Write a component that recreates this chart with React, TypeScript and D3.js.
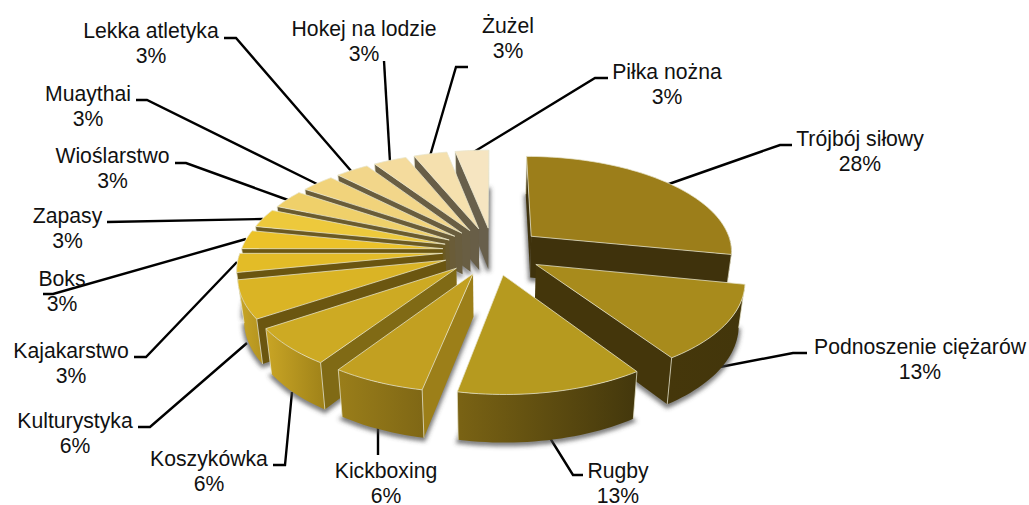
import React from "react";
import * as d3 from "d3";

const categories = ["Trójbój siłowy","Podnoszenie ciężarów","Rugby","Kickboxing","Koszykówka","Kulturystyka","Kajakarstwo","Boks","Zapasy","Wioślarstwo","Muaythai","Lekka atletyka","Hokej na lodzie","Żużel","Piłka nożna"];
const counts = [9,4,4,2,2,2,1,1,1,1,1,1,1,1,1];
const percentLabels = ["28%","13%","13%","6%","6%","6%","3%","3%","3%","3%","3%","3%","3%","3%","3%"];

const topColors = ["#9C7E1A","#A88B1C","#B69A1F","#C2A021","#CDAA23","#DAB425","#E3BC27","#EBC229","#EDC93C","#EFD06A","#F1D37B","#F2D68A","#F4DB9D","#F5E0AE","#F6E5C1"];
const wallColors = ["#3F320C","#44360B","#5A4810","#9C7F19","#806A15","#6B5610","#6A5510","#6C5812","#6B5A22","#6A5B2E","#6A5C38","#695D3E","#695E43","#685E47","#685F4B"];
const rimLeft = ["#45370B","#45370B","#7A6314","#9A7E1A","#C9A525","#C9A627","#C4A326","#C4A326","#C4A326","#C4A326","#C4A326","#C4A326","#C4A326","#C4A326","#C4A326"];
const rimRight = ["#3F320C","#43360B","#43370C","#7F6715","#9F8219","#B3931F","#B3931F","#B3931F","#B3931F","#B3931F","#B3931F","#B3931F","#B3931F","#B3931F","#B3931F"];

const labelCenterX = [860,920,618,386,209,75,71,62,67.5,112.5,88,151,364,508,667];
const labelBaseline = [146,354,478,478,466,428,358,286,223,163,101,38,36,33,79];
const leaderPaths: [number,number][][] = [
  [[666,185],[780,145],[792,145]],
  [[720,367],[793,353],[807,353]],
  [[550,438],[573,475],[583,475]],
  [[378,428],[378,455]],
  [[292,392],[285,465],[273,465]],
  [[247,343],[150,427],[138,427]],
  [[237,262],[146,357],[134,357]],
  [[246,239],[53,294],[43,294]],
  [[263,219],[107,222]],
  [[288,200],[186,163],[175,163]],
  [[317,184],[147,100],[136,100]],
  [[352,172],[236,38],[224,38]],
  [[390,162],[384,61]],
  [[430,156],[456,67],[468,67]],
  [[472,153],[595,78],[608,78]],
];

const CX = 493, CY = 251, RX = 202, TILT = 95, PERSP = 0.141, EXPLODE = 0.25, DEPTH = 42, TAPER = 0.975;

type P = [number, number];
const persp = (z: number) => 1 / (1 - PERSP * z);
const top = (wx: number, wz: number): P => {
  const s = persp(wz);
  return [CX + wx * RX * s, CY + wz * TILT * s];
};
const bottom = (wx: number, wz: number): P => {
  const s = persp(wz);
  const [x, y] = top(wx, wz);
  return [CX + (x - CX) * TAPER, y + DEPTH * Math.pow(s, 0.7)];
};
const line = d3.line<P>().x(d => d[0]).y(d => d[1]);
const poly = (pts: P[]) => line(pts) + "Z";

const pieArcs = d3.pie<number>().sort(null).value(d => d)(counts);

const slices = pieArcs.map((a, i) => {
  const mid = (a.startAngle + a.endAngle) / 2;
  const ox = EXPLODE * Math.sin(mid), oz = -EXPLODE * Math.cos(mid);
  const world = (t: number, r = 1): P => [ox + r * Math.sin(t), oz - r * Math.cos(t)];
  const n = Math.max(4, Math.ceil((a.endAngle - a.startAngle) / 0.03));
  const angles = d3.range(n + 1).map(k => a.startAngle + (a.endAngle - a.startAngle) * k / n);
  const apexW: P = [ox, oz];
  const arcW = angles.map(t => world(t));
  const topArc = arcW.map(w => top(w[0], w[1]));
  const botArc = arcW.map(w => bottom(w[0], w[1]));
  const apexT = top(apexW[0], apexW[1]);
  const apexB = bottom(apexW[0], apexW[1]);
  const topFace = poly([apexT, ...topArc]);
  const botFace = poly([apexB, ...botArc]);
  const s0 = topArc[0], s1 = topArc[n];
  const startWall = s0[0] < apexT[0];
  const endWall = apexT[0] < s1[0];
  const front = angles.filter(t => Math.cos(t) < 0.02);
  const frontW = front.map(t => world(t));
  const rimT = frontW.map(w => top(w[0], w[1]));
  const rimB = frontW.map(w => bottom(w[0], w[1]));
  return { i, apexT, apexB, topArc, botArc, topFace, botFace, startWall, endWall, rimT, rimB, n, angles };
});

const drawOrder = [14,13,12,11,10,9,8,7,6,5,4,3,0,1,2];
const EDGE = "rgba(232,230,205,0.75)";
const FONT = "'Liberation Sans', Arial, sans-serif";

export default function App() {
  return (
    <svg width={1029} height={505} style={{ position: "absolute", left: 0, top: 0, background: "#fff" }}>
      <defs>
        <filter id="soft" x="-20%" y="-20%" width="140%" height="140%">
          <feGaussianBlur stdDeviation="2.2" />
        </filter>
        {slices.map(s => (
          <linearGradient key={s.i} id={`rim${s.i}`} x1="0" x2="1" y1="0" y2="0">
            <stop offset="0" stopColor={rimLeft[s.i]} />
            <stop offset="1" stopColor={rimRight[s.i]} />
          </linearGradient>
        ))}
      </defs>
      <g stroke="#000" strokeWidth={2.4} fill="none">
        {leaderPaths.map((p, i) => <path key={i} d={line(p as P[]) as string} />)}
      </g>
      {drawOrder.map(idx => {
        const s = slices[idx];
        const last = s.n;
        return (
          <g key={idx}>
            <path d={s.botFace} fill="#4a4a4a" fillOpacity={0.6} stroke="#4a4a4a" strokeOpacity={0.6} strokeWidth={4} transform="translate(0,2)" filter="url(#soft)" />
            {s.rimT.length > 1 && (
              <path d={poly([...s.rimT, ...[...s.rimB].reverse()])} fill={`url(#rim${idx})`} />
            )}
            {s.startWall && <path d={poly([s.apexT, s.topArc[0], s.botArc[0], s.apexB])} fill={wallColors[idx]} />}
            {s.endWall && <path d={poly([s.topArc[last], s.apexT, s.apexB, s.botArc[last]])} fill={wallColors[idx]} />}
            {(s.startWall || Math.cos(s.angles[0]) < 0) && (
              <path d={line([s.topArc[0], s.botArc[0]]) as string} stroke={EDGE} strokeWidth={1} />
            )}
            {(s.endWall || Math.cos(s.angles[last]) < 0) && (
              <path d={line([s.topArc[last], s.botArc[last]]) as string} stroke={EDGE} strokeWidth={1} />
            )}
            <path d={s.topFace} fill={topColors[idx]} stroke={EDGE} strokeWidth={1} strokeLinejoin="round" />
          </g>
        );
      })}
      <g fontFamily={FONT} fontSize={21.2} fill="#111" textAnchor="middle">
        {categories.map((c, i) => (
          <text key={c} x={labelCenterX[i]} y={labelBaseline[i]}>
            <tspan x={labelCenterX[i]}>{c}</tspan>
            <tspan x={labelCenterX[i]} dy={24.5}>{percentLabels[i]}</tspan>
          </text>
        ))}
      </g>
    </svg>
  );
}
